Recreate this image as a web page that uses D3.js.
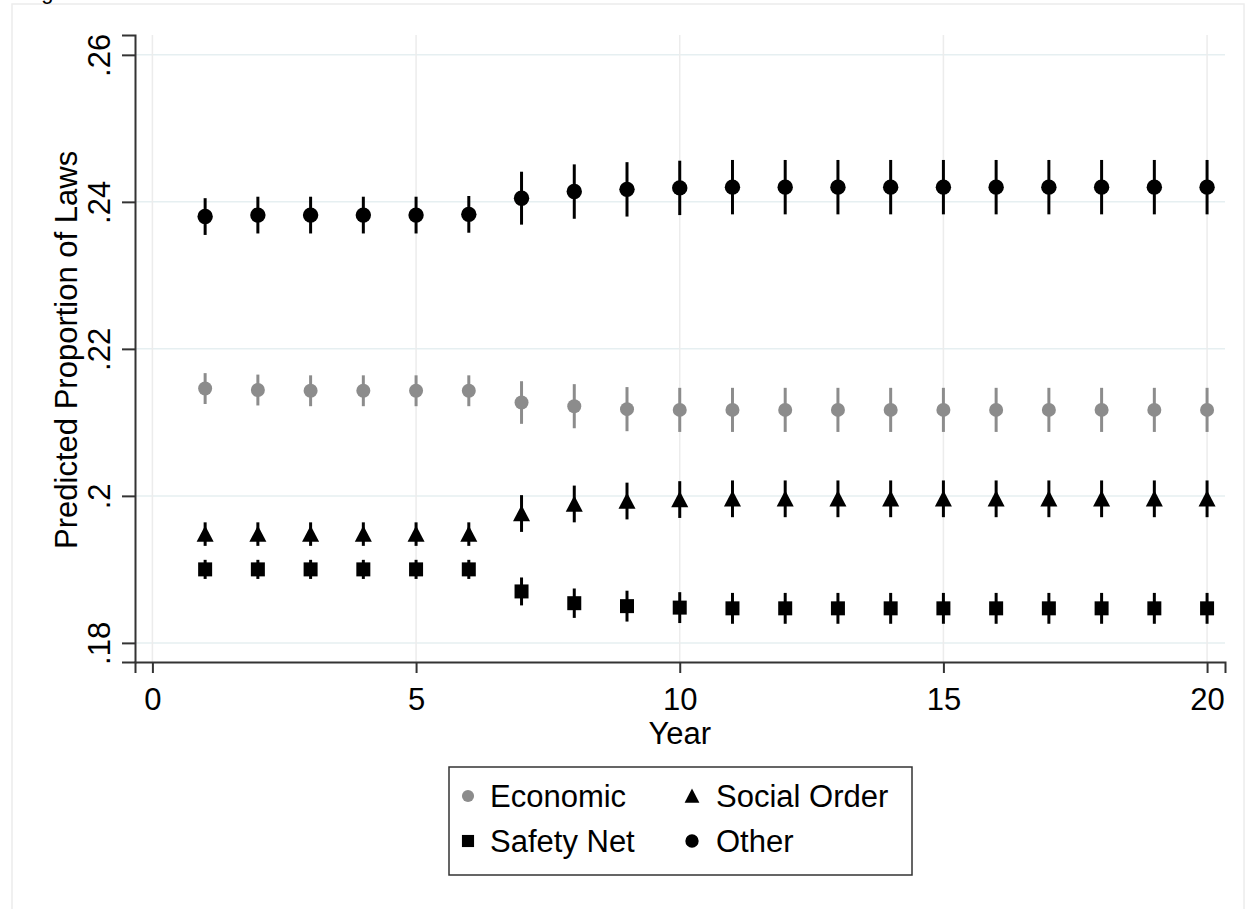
<!DOCTYPE html>
<html>
<head>
<meta charset="utf-8">
<script src="https://cdn.jsdelivr.net/npm/d3@7/dist/d3.min.js"></script>
<style>
  html, body { margin: 0; padding: 0; background: #fff; }
  svg { display: block; }
  text { font-family: "Liberation Sans", Arial, sans-serif; fill: #000; }
</style>
</head>
<body>
<svg id="chart" width="1254" height="909"></svg>
<script>
// ---- data ----
const years = [1,2,3,4,5,6,7,8,9,10,11,12,13,14,15,16,17,18,19,20];

const economic     = [.2146,.2144,.2143,.2143,.2143,.2143,.2127,.2122,.2118,.2117,.2117,.2117,.2117,.2117,.2117,.2117,.2117,.2117,.2117,.2117];
const economicCI   = [.0021,.0021,.0021,.0021,.0021,.0021,.0029,.0030,.0030,.0030,.0030,.0030,.0030,.0030,.0030,.0030,.0030,.0030,.0030,.0030];

const socialOrder  = [.1948,.1948,.1948,.1948,.1948,.1948,.1976,.1989,.1993,.1995,.1996,.1996,.1996,.1996,.1996,.1996,.1996,.1996,.1996,.1996];
const socialOrderCI= [.0016,.0016,.0016,.0016,.0016,.0016,.0025,.0025,.0025,.0025,.0025,.0025,.0025,.0025,.0025,.0025,.0025,.0025,.0025,.0025];

const safetyNet    = [.1900,.1900,.1900,.1900,.1900,.1900,.1870,.1854,.1850,.1848,.1847,.1847,.1847,.1847,.1847,.1847,.1847,.1847,.1847,.1847];
const safetyNetCI  = [.0013,.0013,.0013,.0013,.0013,.0013,.0019,.0020,.0021,.0021,.0021,.0021,.0021,.0021,.0021,.0021,.0021,.0021,.0021,.0021];

const other        = [.2380,.2382,.2382,.2382,.2382,.2383,.2405,.2414,.2417,.2419,.2420,.2420,.2420,.2420,.2420,.2420,.2420,.2420,.2420,.2420];
const otherCI      = [.0025,.0025,.0025,.0025,.0025,.0025,.0036,.0037,.0037,.0037,.0037,.0037,.0037,.0037,.0037,.0037,.0037,.0037,.0037,.0037];

const xTicks = [0,5,10,15,20];
const yTicks = [.18,.20,.22,.24,.26];
const yTickLabels = [".18",".2",".22",".24",".26"];
const xTitle = "Year";
const yTitle = "Predicted Proportion of Laws";
const seriesNames = ["Economic","Social Order","Safety Net","Other"];

// ---- layout ----
const svg = d3.select("#chart");
const X0 = 135, X1 = 1225, Y0 = 662, Y1 = 35;
const FS = 31;
const x = d3.scaleLinear().domain([-0.33, 20.34]).range([X0, X1]);
const y = d3.scaleLinear().domain([0.1774, 0.2627]).range([Y0, Y1]);

// outer graph region frame
svg.append("rect").attr("x", 12).attr("y", 4).attr("width", 1232).attr("height", 920)
  .attr("fill", "none").attr("stroke", "#ececec").attr("stroke-width", 1.5);

// partially visible caption at very top
svg.append("text").attr("x", 23).attr("y", -1).attr("font-family", "Liberation Serif")
  .attr("font-size", 22).text("Figure");

// gridlines
svg.append("g").selectAll("line").data(yTicks).join("line")
  .attr("x1", X0).attr("x2", X1).attr("y1", d => y(d)).attr("y2", d => y(d))
  .attr("stroke", "#e6eff1").attr("stroke-width", 1.5);
svg.append("g").selectAll("line").data(xTicks).join("line")
  .attr("x1", d => x(d)).attr("x2", d => x(d)).attr("y1", Y1).attr("y2", Y0)
  .attr("stroke", "#ececec").attr("stroke-width", 1.5);

// axes
const yAxis = d3.axisLeft(y).tickValues(yTicks).tickSize(13).tickPadding(12)
  .tickFormat((d, i) => yTickLabels[i]);
const gy = svg.append("g").attr("transform", `translate(${X0},0)`).call(yAxis);
gy.select(".domain").attr("stroke", "#333").attr("stroke-width", 2);
gy.selectAll(".tick line").attr("stroke", "#333").attr("stroke-width", 2);
gy.selectAll(".tick text")
  .attr("font-size", FS).attr("font-family", "Liberation Sans, Arial, sans-serif")
  .attr("text-anchor", "middle").attr("fill", "#000")
  .attr("transform", "rotate(-90)")
  .attr("x", 0).attr("y", -25).attr("dy", 0);

const xAxis = d3.axisBottom(x).tickValues(xTicks).tickSize(11).tickPadding(12);
const gx = svg.append("g").attr("transform", `translate(0,${Y0})`).call(xAxis);
gx.select(".domain").attr("stroke", "#333").attr("stroke-width", 2);
gx.selectAll(".tick line").attr("stroke", "#333").attr("stroke-width", 2);
gx.selectAll(".tick text").attr("font-size", FS)
  .attr("font-family", "Liberation Sans, Arial, sans-serif").attr("fill", "#000")
  .attr("y", 48).attr("dy", 0);

// axis titles
svg.append("text").attr("x", (x(0) + x(20)) / 2).attr("y", 744)
  .attr("text-anchor", "middle").attr("font-size", FS).text(xTitle);
svg.append("text").attr("transform", `translate(77,${(y(0.26)+y(0.18))/2 + 1}) rotate(-90)`)
  .attr("text-anchor", "middle").attr("font-size", FS).text(yTitle);

// marker shapes
const triangleType = {
  draw(ctx, size) {
    const s = Math.sqrt(size);
    ctx.moveTo(0, -0.55 * s);
    ctx.lineTo(0.55 * s, 0.5 * s);
    ctx.lineTo(-0.55 * s, 0.5 * s);
    ctx.closePath();
  }
};

const series = [
  { name: seriesNames[0], est: economic,    ci: economicCI,    color: "#8c8c8c", type: d3.symbolCircle, size: Math.PI * 7 * 7 },
  { name: seriesNames[1], est: socialOrder, ci: socialOrderCI, color: "#000",    type: triangleType,    size: 15.5 * 15.5 },
  { name: seriesNames[2], est: safetyNet,   ci: safetyNetCI,   color: "#000",    type: d3.symbolSquare, size: 14 * 14 },
  { name: seriesNames[3], est: other,       ci: otherCI,       color: "#000",    type: d3.symbolCircle, size: Math.PI * 7.7 * 7.7 }
];

series.forEach(s => {
  const g = svg.append("g");
  const pts = years.map((yr, i) => ({ yr, v: s.est[i], lo: s.est[i] - s.ci[i], hi: s.est[i] + s.ci[i] }));
  g.selectAll("line").data(pts).join("line")
    .attr("x1", d => x(d.yr)).attr("x2", d => x(d.yr))
    .attr("y1", d => y(d.lo)).attr("y2", d => y(d.hi))
    .attr("stroke", s.color).attr("stroke-width", 3);
  g.selectAll("path").data(pts).join("path")
    .attr("transform", d => `translate(${x(d.yr)},${y(d.v)})`)
    .attr("d", d3.symbol().type(s.type).size(s.size))
    .attr("fill", s.color);
});

// legend
const leg = svg.append("g");
leg.append("rect").attr("x", 449).attr("y", 767).attr("width", 463).attr("height", 108)
  .attr("fill", "#fff").attr("stroke", "#333").attr("stroke-width", 1.5);
const legPos = [
  { mx: 468, tx: 490, cy: 796 },
  { mx: 692, tx: 716, cy: 796 },
  { mx: 468, tx: 490, cy: 841 },
  { mx: 692, tx: 716, cy: 841 }
];
series.forEach((s, i) => {
  const p = legPos[i];
  leg.append("path").attr("transform", `translate(${p.mx},${p.cy})`)
    .attr("d", d3.symbol().type(s.type).size(s.size * 0.75)).attr("fill", s.color);
  leg.append("text").attr("x", p.tx).attr("y", p.cy).attr("dy", "0.36em")
    .attr("font-size", FS).text(s.name);
});
</script>
</body>
</html>
